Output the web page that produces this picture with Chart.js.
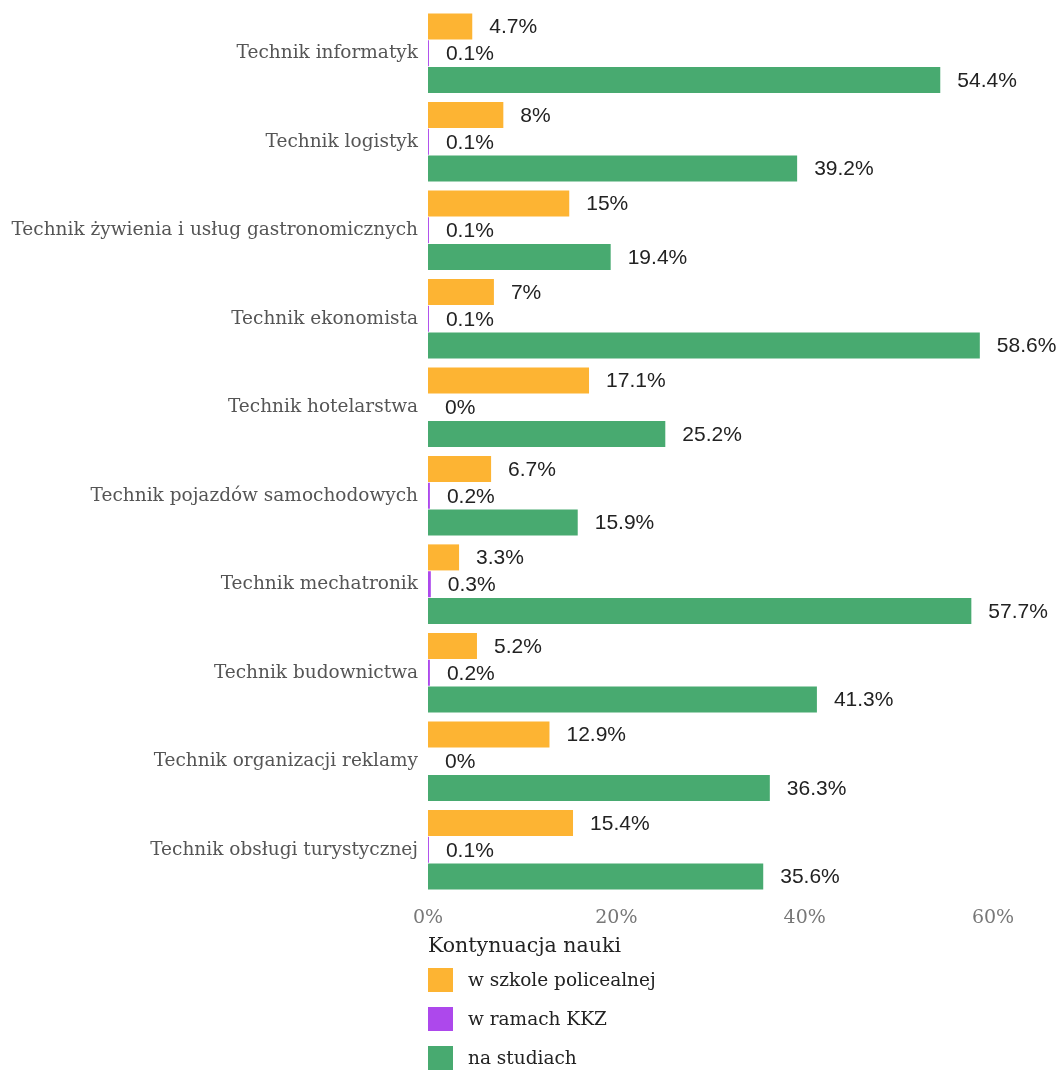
<!DOCTYPE html>
<html lang="pl">
<head>
  <meta charset="UTF-8">
  <title>Kontynuacja nauki</title>
  <style>
    body { margin: 0; background: #fff; }
    #wrap { position: relative; width: 1064px; height: 1070px; }
    #legend { position: absolute; left: 428px; top: 930px; font-family: 'DejaVu Serif', serif; color: #222; }
    #legend .title { font-size: 20.5px; height: 30px; line-height: 30px; }
    #legend .item { height: 39px; display: flex; align-items: center; font-size: 18.5px; }
    #legend .box { width: 25px; height: 24px; margin-right: 15px; }
  </style>
  <script type="text/javascript" src="https://cdn.jsdelivr.net/npm/chart.js@4/dist/chart.umd.min.js"></script>
</head>
<body>
  <div id="wrap">
    <canvas id="chart" width="1064" height="939"></canvas>
    <div id="legend"></div>
  </div>

  <script type="text/javascript">
    var categories = [
      'Technik informatyk',
      'Technik logistyk',
      'Technik żywienia i usług gastronomicznych',
      'Technik ekonomista',
      'Technik hotelarstwa',
      'Technik pojazdów samochodowych',
      'Technik mechatronik',
      'Technik budownictwa',
      'Technik organizacji reklamy',
      'Technik obsługi turystycznej'
    ]
    var seriesNames = ['w szkole policealnej', 'w ramach KKZ', 'na studiach']
    var policealna = [4.7, 8, 15, 7, 17.1, 6.7, 3.3, 5.2, 12.9, 15.4]
    var kkz = [0.1, 0.1, 0.1, 0.1, 0, 0.2, 0.3, 0.2, 0, 0.1]
    var studia = [54.4, 39.2, 19.4, 58.6, 25.2, 15.9, 57.7, 41.3, 36.3, 35.6]
    var xTicks = [0, 20, 40, 60]
    var colors = ['#FDB433', '#AD48EC', '#48AA70']

    // value labels to the right of every bar
    var valueLabels = {
      id: 'valueLabels',
      afterDatasetsDraw: function (chart) {
        var ctx = chart.ctx
        ctx.save()
        ctx.font = '21px "Liberation Sans", Arial, sans-serif'
        ctx.fillStyle = '#222'
        ctx.textBaseline = 'middle'
        ctx.textAlign = 'left'
        chart.data.datasets.forEach(function (ds, i) {
          chart.getDatasetMeta(i).data.forEach(function (bar, j) {
            ctx.fillText(ds.data[j] + '%', bar.x + 17, bar.y + 1)
          })
        })
        ctx.restore()
      }
    }

    var ctx = document.getElementById('chart').getContext('2d')
    var chart = new Chart(ctx, {
      type: 'bar',
      data: {
        labels: categories,
        datasets: [
          { label: seriesNames[0], data: policealna, backgroundColor: colors[0] },
          { label: seriesNames[1], data: kkz, backgroundColor: colors[1] },
          { label: seriesNames[2], data: studia, backgroundColor: colors[2] }
        ]
      },
      options: {
        indexAxis: 'y',
        responsive: false,
        animation: false,
        layout: { padding: { top: 9, right: 71, left: 0, bottom: 0 } },
        datasets: { bar: { categoryPercentage: 0.91, barPercentage: 0.97 } },
        plugins: { legend: { display: false }, tooltip: { enabled: false } },
        scales: {
          x: {
            min: 0, max: 60,
            grid: { display: false, drawTicks: false },
            border: { display: false },
            afterBuildTicks: function (scale) {
              scale.ticks = xTicks.map(function (v) { return { value: v } })
            },
            afterFit: function (scale) { scale.height = 45 },
            ticks: {
              padding: 13,
              color: '#777',
              font: { family: '"DejaVu Serif", serif', size: 19 },
              callback: function (v) { return v + '%' }
            }
          },
          y: {
            grid: { display: false, drawTicks: false },
            border: { display: false },
            afterFit: function (scale) {
              scale.width = 428
              scale.paddingTop = 0
              scale.paddingBottom = 0
            },
            ticks: {
              padding: 10,
              color: '#555',
              font: { family: '"DejaVu Serif", serif', size: 18.5 }
            }
          }
        }
      },
      plugins: [valueLabels]
    })

    var legend = document.getElementById('legend')
    var html = '<div class="title">Kontynuacja nauki</div>'
    seriesNames.forEach(function (name, i) {
      html += '<div class="item"><span class="box" style="background:' + colors[i] + '"></span>' + name + '</div>'
    })
    legend.innerHTML = html
  </script>
</body>
</html>
